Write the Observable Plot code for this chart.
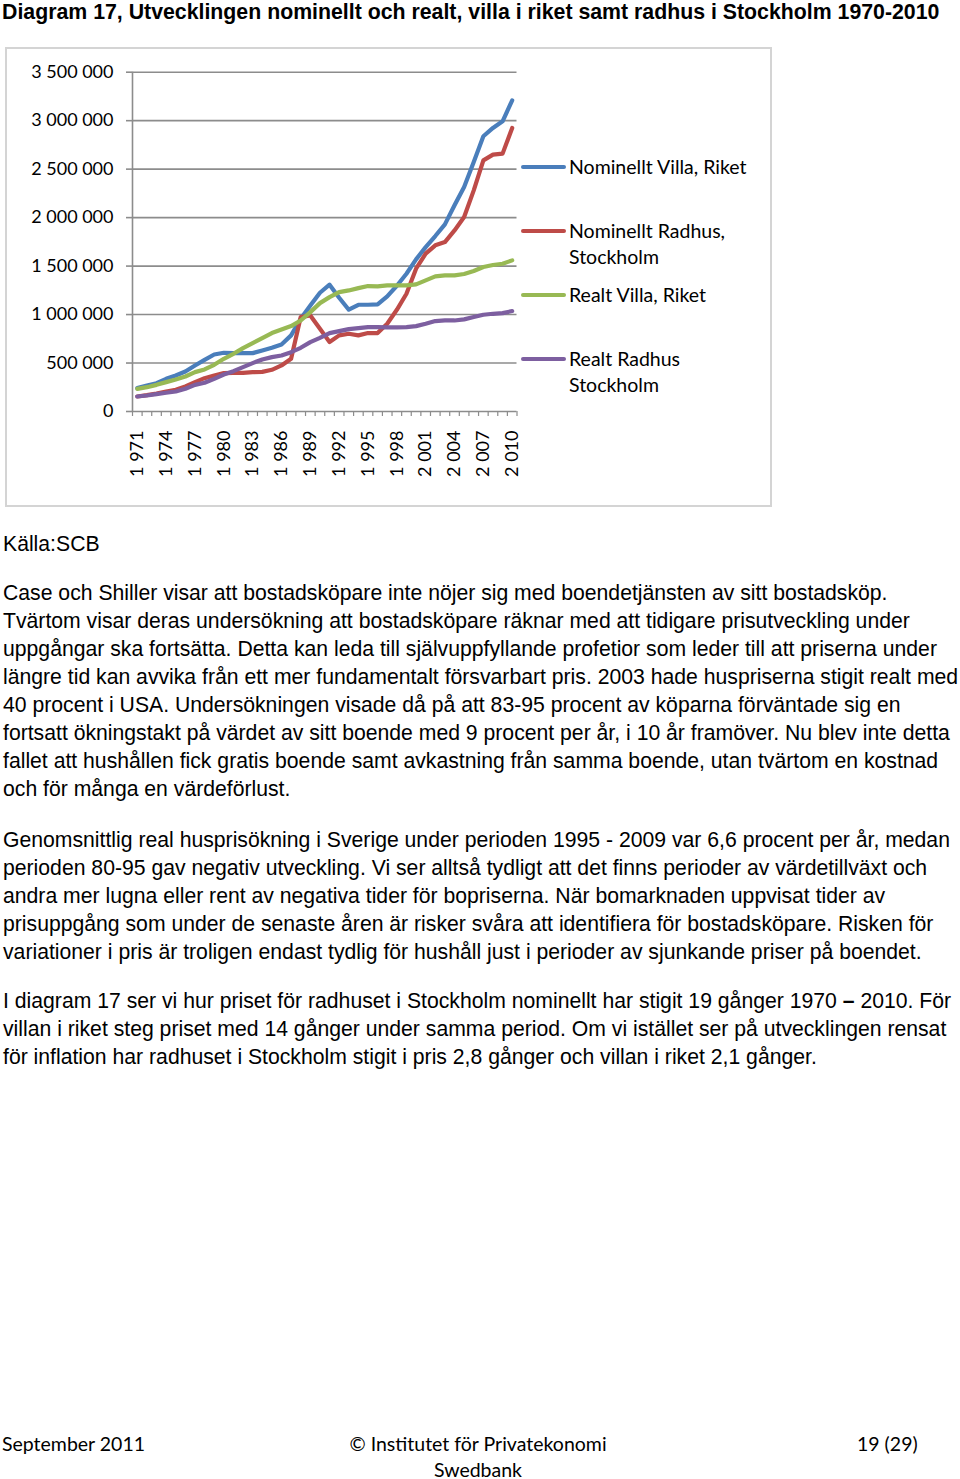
<!DOCTYPE html>
<html>
<head>
<meta charset="utf-8">
<script src="https://cdn.jsdelivr.net/npm/d3@7"></script>
<script src="https://cdn.jsdelivr.net/npm/@observablehq/plot@0.6"></script>
<style>
  html, body { margin: 0; padding: 0; background: #fff; }
  body { width: 960px; height: 1479px; position: relative; overflow: hidden; }
  .title { position: absolute; left: 2px; top: 0px; font-family: "Liberation Sans", Arial, sans-serif; font-weight: bold; font-size: 21.3px; line-height: 24px; white-space: nowrap; color: #000; }
  .frame { position: absolute; left: 5px; top: 47px; width: 763px; height: 456px; border: 2px solid #d4d4d4; }
  #chart { position: absolute; left: 0px; top: 49px; }
  .legend { position: absolute; font-family: Lato, "Open Sans", sans-serif; font-size: 19.5px; line-height: 26px; color: #000; white-space: nowrap; }
  .legend .sw { position: absolute; left: -48px; top: 11px; width: 45px; height: 4px; border-radius: 2px; }
  .txt { position: absolute; left: 3px; font-family: "Liberation Sans", Arial, sans-serif; font-size: 21.2px; line-height: 28px; color: #000; white-space: nowrap; }
  .foot { position: absolute; font-family: Lato, "Open Sans", sans-serif; font-size: 19.5px; line-height: 26px; color: #000; white-space: nowrap; }
</style>
</head>
<body>
<div class="title">Diagram 17, Utvecklingen nominellt och realt, villa i riket samt radhus i Stockholm 1970-2010</div>
<div class="frame"></div>
<div id="chart"></div>
<div id="legend"></div>

<div class="txt" style="top:530px;">Källa:SCB</div>
<div class="txt" style="top:579px;">Case och Shiller visar att bostadsköpare inte nöjer sig med boendetjänsten av sitt bostadsköp.<br>Tvärtom visar deras undersökning att bostadsköpare räknar med att tidigare prisutveckling under<br>uppgångar ska fortsätta. Detta kan leda till självuppfyllande profetior som leder till att priserna under<br>längre tid kan avvika från ett mer fundamentalt försvarbart pris. 2003 hade huspriserna stigit realt med<br>40 procent i USA. Undersökningen visade då på att 83-95 procent av köparna förväntade sig en<br>fortsatt ökningstakt på värdet av sitt boende med 9 procent per år, i 10 år framöver. Nu blev inte detta<br>fallet att hushållen fick gratis boende samt avkastning från samma boende, utan tvärtom en kostnad<br>och för många en värdeförlust.</div>
<div class="txt" style="top:826px;">Genomsnittlig real husprisökning i Sverige under perioden 1995 - 2009 var 6,6 procent per år, medan<br>perioden 80-95 gav negativ utveckling. Vi ser alltså tydligt att det finns perioder av värdetillväxt och<br>andra mer lugna eller rent av negativa tider för bopriserna. När bomarknaden uppvisat tider av<br>prisuppgång som under de senaste åren är risker svåra att identifiera för bostadsköpare. Risken för<br>variationer i pris är troligen endast tydlig för hushåll just i perioder av sjunkande priser på boendet.</div>
<div class="txt" style="top:987px;">I diagram 17 ser vi hur priset för radhuset i Stockholm nominellt har stigit 19 gånger 1970 <b>–</b> 2010. För<br>villan i riket steg priset med 14 gånger under samma period. Om vi istället ser på utvecklingen rensat<br>för inflation har radhuset i Stockholm stigit i pris 2,8 gånger och villan i riket 2,1 gånger.</div>

<div class="foot" style="left:2px; top:1431px;">September 2011</div>
<div class="foot" style="left:333px; width:290px; text-align:center; top:1431px;">© Institutet för Privatekonomi<br>Swedbank</div>
<div class="foot" style="left:857px; top:1431px;">19 (29)</div>

<script>
// ---- data ----
const years = [1971,1972,1973,1974,1975,1976,1977,1978,1979,1980,
               1981,1982,1983,1984,1985,1986,1987,1988,1989,1990,
               1991,1992,1993,1994,1995,1996,1997,1998,1999,2000,
               2001,2002,2003,2004,2005,2006,2007,2008,2009,2010];

const nominelltVilla = [241000,268000,292000,337000,372000,413000,475000,533000,588000,606000,
                        602000,602000,602000,630000,657000,692000,785000,957000,1094000,1225000,
                        1308000,1173000,1050000,1101000,1101000,1105000,1187000,1297000,1421000,1569000,
                        1696000,1810000,1930000,2127000,2316000,2574000,2839000,2925000,2994000,3210000];

const nominelltRadhus = [155000,169000,186000,206000,224000,258000,303000,344000,372000,396000,
                         399000,399000,406000,409000,430000,475000,544000,974000,991000,853000,
                         716000,785000,802000,785000,809000,809000,905000,1049000,1215000,1473000,
                         1628000,1714000,1748000,1868000,2006000,2281000,2591000,2650000,2660000,2925000];

const realtVilla = [234000,251000,275000,303000,330000,361000,406000,434000,482000,544000,
                    595000,654000,705000,757000,809000,846000,881000,939000,1025000,1118000,
                    1180000,1232000,1249000,1273000,1294000,1290000,1301000,1301000,1301000,1311000,
                    1352000,1394000,1404000,1404000,1418000,1449000,1490000,1511000,1524000,1559000];

const realtRadhus = [155000,165000,179000,193000,206000,234000,275000,296000,337000,382000,
                     416000,458000,499000,537000,561000,578000,612000,657000,716000,760000,
                     809000,829000,850000,860000,871000,871000,867000,867000,871000,881000,
                     905000,933000,939000,939000,950000,974000,998000,1008000,1015000,1036000];

const seriesNames = ["Nominellt Villa, Riket", "Nominellt Radhus, Stockholm", "Realt Villa, Riket", "Realt Radhus Stockholm"];
const legendLabels = ["Nominellt Villa, Riket", "Nominellt Radhus,<br>Stockholm", "Realt Villa, Riket", "Realt Radhus<br>Stockholm"];
const seriesColors = ["#4a7ebb", "#be4b48", "#98b954", "#7d5fa0"];
const yTicks = [0, 500000, 1000000, 1500000, 2000000, 2500000, 3000000, 3500000];
const xLabelYears = [1971,1974,1977,1980,1983,1986,1989,1992,1995,1998,2001,2004,2007,2010];

// ---- build table ----
const seriesValues = [nominelltVilla, nominelltRadhus, realtVilla, realtRadhus];
const rows = [];
seriesNames.forEach((name, s) => {
  years.forEach((yr, i) => rows.push({series: name, year: yr, value: seriesValues[s][i]}));
});
const boundaries = years.map(y => y - 0.5).concat([years[years.length - 1] + 0.5]);

const fmt = d3.formatLocale({thousands: "\u00a0", grouping: [3], decimal: ","}).format(",d");
const fmtYear = d => fmt(d);

const chart = Plot.plot({
  width: 770,
  height: 455,
  marginLeft: 132,
  marginRight: 253.5,
  marginTop: 22.7,
  marginBottom: 93,
  style: {fontFamily: "Lato, 'Open Sans', sans-serif", fontSize: "18px", color: "#000", background: "transparent"},
  x: {type: "linear", domain: [years[0] - 0.5, years[years.length - 1] + 0.5]},
  y: {domain: [0, 3500000]},
  color: {domain: seriesNames, range: seriesColors},
  marks: [
    Plot.ruleY(yTicks, {stroke: "#8c8c8c", strokeWidth: 1.6}),
    Plot.ruleX([years[0] - 0.5], {stroke: "#8c8c8c", strokeWidth: 1.6}),
    Plot.axisY({ticks: yTicks, tickFormat: fmt, tickSize: 6, tickPadding: 13, stroke: "#8c8c8c", strokeWidth: 1.6, label: null, fontSize: 18, fill: "#000"}),
    Plot.axisX({ticks: boundaries, tickFormat: () => "", tickSize: 5, stroke: "#8c8c8c", strokeWidth: 1.2, label: null}),
    Plot.axisX({ticks: xLabelYears, tickFormat: fmtYear, tickSize: 0, tickPadding: 19, tickRotate: -90, label: null, fontSize: 18, fill: "#000"}),
    Plot.line(rows, {x: "year", y: "value", z: "series", stroke: "series", strokeWidth: 4.2, strokeLinejoin: "round", strokeLinecap: "round"})
  ]
});
document.getElementById("chart").appendChild(chart);

// ---- legend (HTML, beside the plot) ----
const legendTops = [154, 218, 282, 346];
const legend = document.getElementById("legend");
seriesNames.forEach((name, i) => {
  const div = document.createElement("div");
  div.className = "legend";
  div.style.left = "569px";
  div.style.top = legendTops[i] + "px";
  div.innerHTML = `<span class="sw" style="background:${seriesColors[i]}"></span>${legendLabels[i]}`;
  legend.appendChild(div);
});
</script>
</body>
</html>
